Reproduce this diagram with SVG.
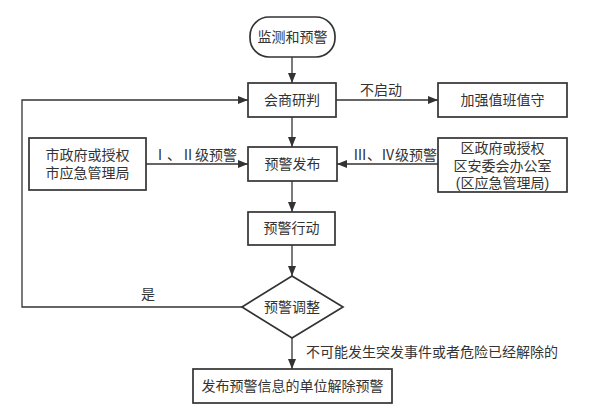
<svg xmlns="http://www.w3.org/2000/svg" width="589" height="415" viewBox="0 0 589 415">
<style>
.n{fill:#fff;stroke:#333;stroke-width:1.7}
.t{font-family:"Liberation Sans","Noto Sans CJK SC",sans-serif;font-size:14px;fill:#333;text-anchor:middle}
.l{font-family:"Liberation Sans","Noto Sans CJK SC",sans-serif;font-size:14px;fill:#333}
.c{fill:none;stroke:#333;stroke-width:1.3}
</style>
<defs>
<marker id="a" viewBox="0 0 10 10" refX="10" refY="5" markerWidth="10" markerHeight="10" markerUnits="userSpaceOnUse" orient="auto">
<path d="M0,1 L10,5 L0,9 Z" fill="#333"/>
</marker>
</defs>
<rect width="589" height="415" fill="#fff"/>
<g id="connectors">
<path class="c" d="M292,57 V83" marker-end="url(#a)"/>
<path class="c" d="M336,100 H438" marker-end="url(#a)"/>
<path class="c" d="M292,117 V147" marker-end="url(#a)"/>
<path class="c" d="M146,164 H248" marker-end="url(#a)"/>
<path class="c" d="M438,164 H337" marker-end="url(#a)"/>
<path class="c" d="M292,181 V212" marker-end="url(#a)"/>
<path class="c" d="M292,245 V276" marker-end="url(#a)"/>
<path class="c" d="M242,307 H22 V100 H248" marker-end="url(#a)"/>
<path class="c" d="M292,338 V369" marker-end="url(#a)"/>
<text class="l" x="360" y="95">不启动</text>
<text class="l" x="153" y="160">Ⅰ、Ⅱ级预警</text>
<text class="l" x="353" y="160">Ⅲ、Ⅳ级预警</text>
<text class="l" x="141" y="299">是</text>
<text class="l" x="306" y="357">不可能发生突发事件或者危险已经解除的</text>
</g>
<g id="n1"><rect class="n" x="250" y="17" width="85" height="40" rx="19"/><text class="t" x="292.5" y="42">监测和预警</text></g>
<g id="n2"><rect class="n" x="248" y="83" width="88" height="34"/><text class="t" x="292" y="105">会商研判</text></g>
<g id="n3"><rect class="n" x="438" y="83" width="129" height="34"/><text class="t" x="502.5" y="105">加强值班值守</text></g>
<g id="n4"><rect class="n" x="29" y="138" width="117" height="52"/><text class="t" x="87.5" y="160">市政府或授权</text><text class="t" x="87.5" y="178">市应急管理局</text></g>
<g id="n5"><rect class="n" x="248" y="147" width="89" height="34"/><text class="t" x="292.5" y="169">预警发布</text></g>
<g id="n6"><rect class="n" x="438" y="138" width="129" height="54"/><text class="t" x="502.5" y="153">区政府或授权</text><text class="t" x="502.5" y="170.5">区安委会办公室</text><text class="t" x="502.5" y="188">(区应急管理局)</text></g>
<g id="n7"><rect class="n" x="248" y="212" width="87" height="33"/><text class="t" x="291.5" y="233">预警行动</text></g>
<g id="n8"><path class="n" d="M292,276 L343,307 L292,338 L242,307 Z"/><text class="t" x="292" y="312">预警调整</text></g>
<g id="n9"><rect class="n" x="193" y="369" width="199" height="34"/><text class="t" x="292.5" y="391">发布预警信息的单位解除预警</text></g>
</svg>
